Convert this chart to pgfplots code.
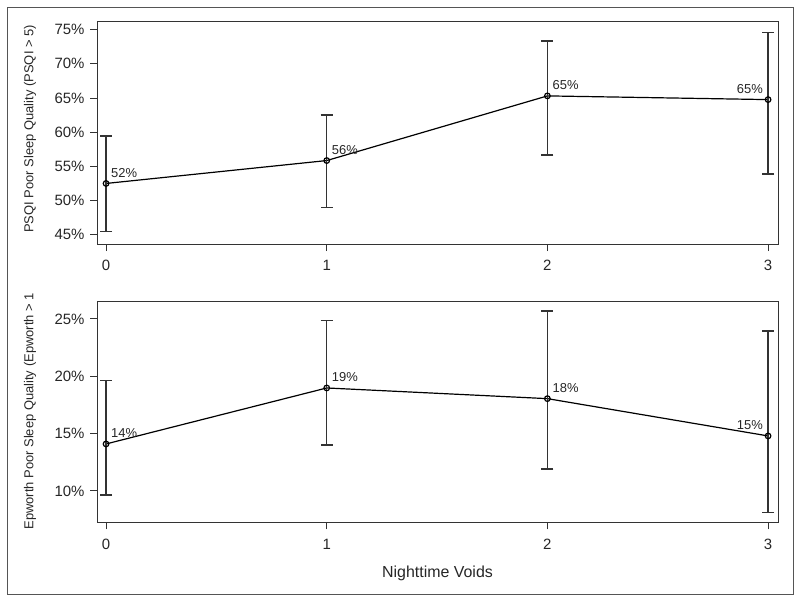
\documentclass[border=0pt]{standalone}
\usepackage{pgfplots}
\pgfplotsset{compat=1.18}
\usepackage{pgfplotstable}
\usepackage{fontspec}
\setmainfont{Liberation Sans}
\definecolor{axgray}{HTML}{333333}
\definecolor{framegray}{HTML}{555555}

\pgfplotstableread{
x y ep em lab
0 52.50 6.96 7.04 52
1 55.85 6.68 6.87 56
2 65.31 8.04 8.63 65
3 64.77 9.79 10.87 65
}\topdata
\pgfplotstableread{
x y ep em lab
0 14.10 5.52 4.44 14
1 18.98 5.91 4.97 19
2 18.05 7.65 6.13 18
3 14.80 9.15 6.66 15
}\botdata

\pgfplotsset{
  panel/.style={
    scale only axis,
    width=681bp,
    xmin=-0.041, xmax=3.045,
    xtick={0,1,2,3},
    xtick pos=bottom, ytick pos=left,
    tick align=outside,
    major tick length=7bp,
    axis line style={axgray, line width=1bp},
    every tick/.style={axgray, line width=1bp},
    /pgf/number format/assume math mode=true,
    yticklabel={\pgfmathprintnumber{\tick}\%},
    tick label style={font=\fontsize{15}{17}\selectfont, text=black!85},
    xticklabel style={yshift=-6bp},
    yticklabel style={xshift=-2bp},
    ylabel style={font=\fontsize{13}{15}\selectfont, text=black!85},
    xlabel style={font=\fontsize{16}{18}\selectfont, text=black!85},
    clip=false,
  },
  series/.style={
    black, line width=1.2bp,
    mark=o, mark size=2.8bp,
    mark options={line width=1.2bp, fill=black!40},
    error bars/y dir=both, error bars/y explicit,
    error bars/error bar style={axgray, line width=1.3bp},
    error bars/error mark options={rotate=90, mark size=6bp, axgray, line width=1.3bp},
  },
  labs/.style={
    draw=none, mark=none,
    point meta=explicit,
    nodes near coords={\pgfmathprintnumber[fixed,precision=0]{\pgfplotspointmeta}\%},
    every node near coord/.append style={font=\fontsize{13}{15}\selectfont, text=black!85, inner sep=0pt, yshift=6bp},
  },
}

\begin{document}
\begin{tikzpicture}
\path (0,0) rectangle (800bp,-603bp);
\draw[framegray, line width=1bp] (7bp,-7bp) rectangle (793bp,-594bp);

\begin{axis}[panel,
  at={(97bp,-21bp)}, anchor=north west,
  height=223bp,
  ymin=43.64, ymax=76.27,
  ytick={45,50,55,60,65,70,75},
  ylabel={PSQI Poor Sleep Quality (PSQI > 5)},
  ylabel style={at={(axis description cs:-0.0984,0.516)}, anchor=center},
]
\addplot[series] table[x=x, y=y, y error plus=ep, y error minus=em] {\topdata};
\addplot[labs, every node near coord/.append style={anchor=south west, xshift=5bp}, restrict x to domain=0:2.5] table[x=x, y=y, meta=lab] {\topdata};
\addplot[labs, every node near coord/.append style={anchor=south east, xshift=-5bp}, restrict x to domain=2.5:3.5] table[x=x, y=y, meta=lab] {\topdata};
\end{axis}

\begin{axis}[panel,
  at={(97bp,-301.7bp)}, anchor=north west,
  height=220.6bp,
  ymin=7.27, ymax=26.5,
  ytick={10,15,20,25},
  ylabel={Epworth Poor Sleep Quality (Epworth > 1},
  ylabel style={at={(axis description cs:-0.0984,-0.049)}, anchor=west},
  xlabel={Nighttime Voids},
  xlabel style={at={(axis description cs:0.5,-0.23)}, anchor=center},
]
\addplot[series] table[x=x, y=y, y error plus=ep, y error minus=em] {\botdata};
\addplot[labs, every node near coord/.append style={anchor=south west, xshift=5bp}, restrict x to domain=0:2.5] table[x=x, y=y, meta=lab] {\botdata};
\addplot[labs, every node near coord/.append style={anchor=south east, xshift=-5bp}, restrict x to domain=2.5:3.5] table[x=x, y=y, meta=lab] {\botdata};
\end{axis}
\end{tikzpicture}
\end{document}
